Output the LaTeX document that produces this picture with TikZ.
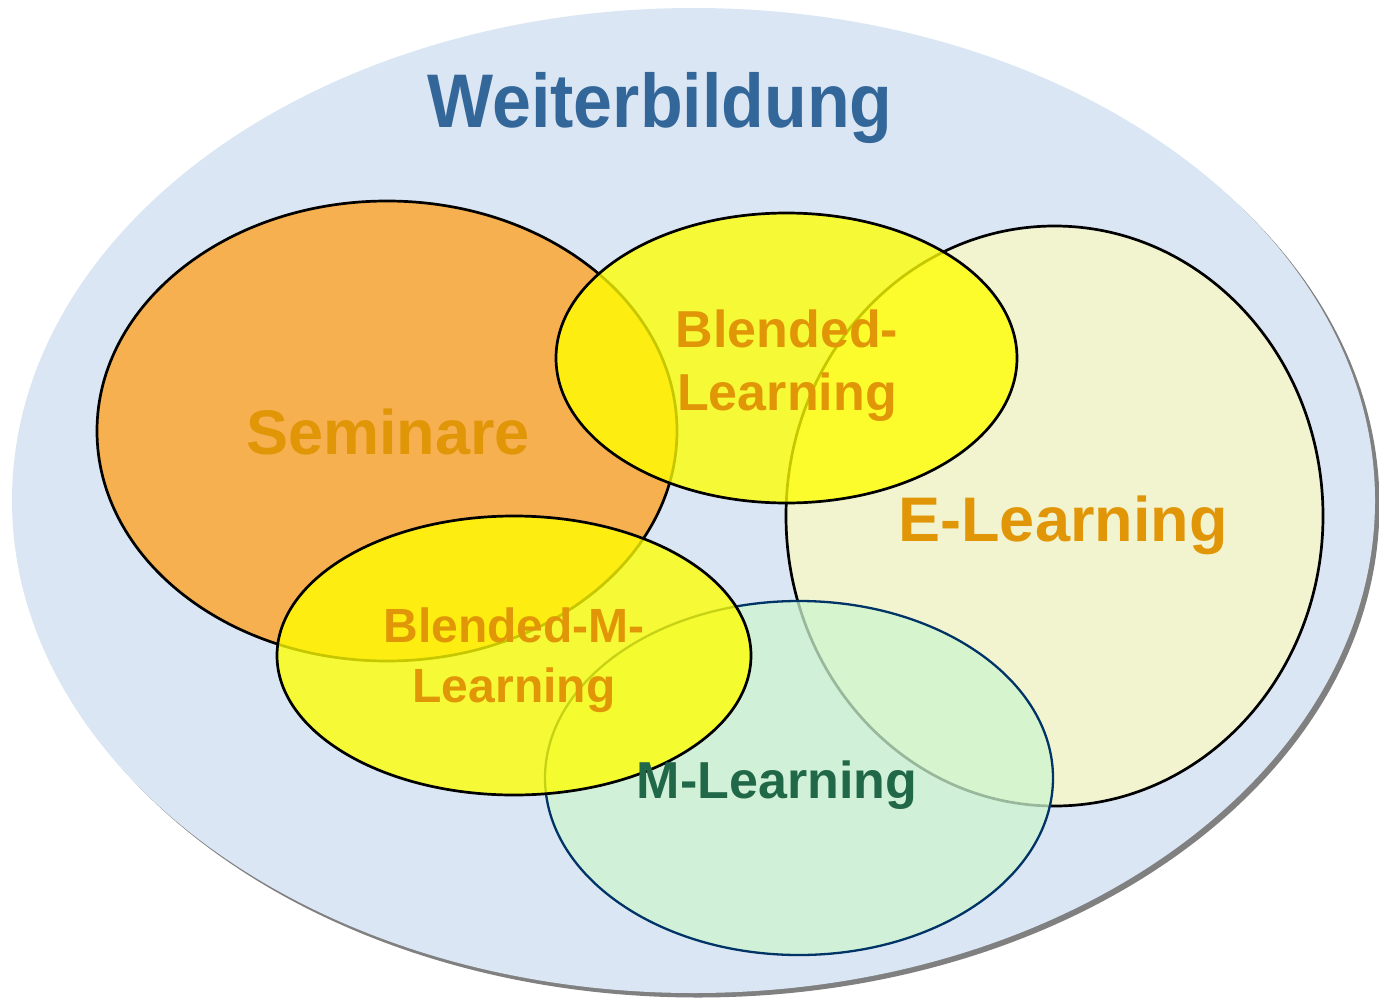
\documentclass[tikz,border=0pt]{standalone}
\usepackage{fontspec}
\setmainfont{Liberation Sans}
\usetikzlibrary{shapes.geometric}
\definecolor{bgblue}{RGB}{218,230,243}
\definecolor{shadowgray}{RGB}{128,128,128}
\definecolor{semorange}{RGB}{246,176,80}
\definecolor{eyellow}{RGB}{242,244,207}
\definecolor{mgreen}{RGB}{205,246,208}
\definecolor{byellow}{RGB}{255,255,0}
\definecolor{navy}{RGB}{0,51,102}
\definecolor{txtorange}{RGB}{225,150,8}
\definecolor{txtblue}{RGB}{51,102,153}
\definecolor{txtgreen}{RGB}{32,104,72}
\tikzset{
  oval/.style={ellipse, inner sep=0pt, outer sep=0pt, draw=black, line width=2.7pt},
  lbl/.style={inner sep=0pt, outer sep=0pt, font=\bfseries, align=center},
}
\begin{document}
\begin{tikzpicture}[x=1pt,y=-1pt]
\useasboundingbox (0,0) rectangle (1379,998);
% outer ellipse with shadow
\node[ellipse, inner sep=0pt, fill=shadowgray, minimum width=1363pt, minimum height=985pt] (shadow) at (698,505) {};
\node[ellipse, inner sep=0pt, fill=bgblue, minimum width=1363pt, minimum height=985pt] (weiter) at (693.5,500.5) {};
% Seminare
\node[oval, fill=semorange, minimum width=580pt, minimum height=460pt] (sem) at (387,431) {};
% E-Learning
\node[oval, fill=eyellow, minimum width=537pt, minimum height=580pt] (el) at (1054.5,516) {};
% M-Learning
\node[oval, draw=navy, line width=2.3pt, fill=mgreen, fill opacity=0.75, minimum width=508pt, minimum height=354pt] (ml) at (799,778) {};
% Blended-M-Learning
\node[oval, fill=byellow, fill opacity=0.78, minimum width=474pt, minimum height=279pt] (bml) at (514,655.5) {};
% Blended-Learning
\node[oval, fill=byellow, fill opacity=0.78, minimum width=461pt, minimum height=290pt] (bl) at (786.5,358) {};
% labels
\node[lbl, text=txtblue, font=\fontsize{76}{90}\selectfont\bfseries, anchor=base, xscale=0.92] (tw) at (660,127) {Weiterbildung};
\node[lbl, text=txtorange, font=\fontsize{63}{76}\selectfont\bfseries, anchor=base] (ts) at (388,454) {Seminare};
\node[lbl, text=txtorange, font=\fontsize{63}{76}\selectfont\bfseries, anchor=base] (te) at (1063,541) {E-Learning};
\node[lbl, text=txtorange, font=\fontsize{52}{63}\selectfont\bfseries, anchor=north] (tb) at (787,310) {Blended-\\Learning};
\node[lbl, text=txtorange, font=\fontsize{48}{60}\selectfont\bfseries, anchor=north] (tbm) at (514,608) {Blended-M-\\Learning};
\node[lbl, text=txtgreen, font=\fontsize{52}{63}\selectfont\bfseries, anchor=base] (tm) at (777,798) {M-Learning};
\end{tikzpicture}
\end{document}
